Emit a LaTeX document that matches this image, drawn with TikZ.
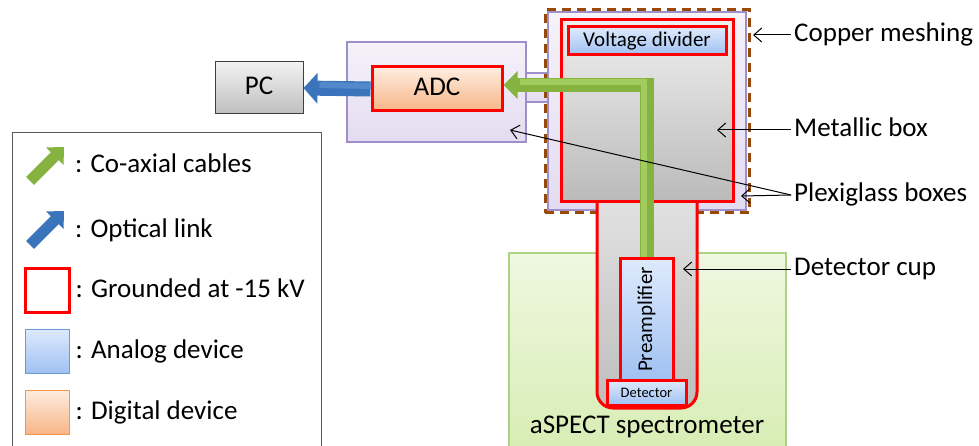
\documentclass[tikz,border=0pt]{standalone}
\usepackage{fontspec}
\setmainfont{Carlito}
\usepackage{graphicx}
\usepackage{xcolor}
\usetikzlibrary{arrows.meta,positioning}

\definecolor{hvred}{HTML}{FF0000}
\definecolor{meshbrown}{HTML}{984807}
\definecolor{specline}{HTML}{AED283}
\definecolor{spectop}{HTML}{EFF8E1}
\definecolor{specbot}{HTML}{D6ECB1}
\definecolor{legline}{HTML}{595959}
\definecolor{plexiline}{HTML}{9E8FCB}
\definecolor{plexitop}{HTML}{F5F2FA}
\definecolor{plexibot}{HTML}{E3DCF1}
\definecolor{cuptop}{HTML}{E2E2E2}
\definecolor{cupbot}{HTML}{BDBDBD}
\definecolor{mettop}{HTML}{EFEFEF}
\definecolor{metbot}{HTML}{BABABA}
\definecolor{anatop}{HTML}{DEEAFC}
\definecolor{anabot}{HTML}{A0C1F2}
\definecolor{analine}{HTML}{6D9AD3}
\definecolor{digtop}{HTML}{FEEDE0}
\definecolor{digbot}{HTML}{F8B587}
\definecolor{digline}{HTML}{F79646}
\definecolor{pctop}{HTML}{F2F2F2}
\definecolor{pcbot}{HTML}{BEBEBE}
\definecolor{pcline}{HTML}{3F3F3F}
\definecolor{coaxgreen}{HTML}{86B23F}
\definecolor{coaxlight}{HTML}{A3CC5E}
\definecolor{opticblue}{HTML}{3A74BA}
\definecolor{opticlight}{HTML}{5289CB}

\begin{document}
\begin{tikzpicture}[x=1pt, y=-1pt, node distance=61pt,
    txt/.style={font=\fontsize{27}{30}\selectfont, text height=18pt, text depth=4pt, inner sep=3pt},
    box/.style={draw, rectangle, inner sep=0pt},
    hv/.style={draw=hvred, line width=3pt},
    analog/.style={top color=anatop, bottom color=anabot},
    digital/.style={top color=digtop, bottom color=digbot},
    plexi/.style={draw=plexiline, line width=1.2pt, top color=plexitop, bottom color=plexibot},
    metal/.style={top color=mettop, bottom color=metbot},
    coax/.style={line width=14pt, draw=coaxgreen, -{Triangle[width=27pt,length=14pt]}},
    coaxhl/.style={line width=6pt, draw=coaxlight},
    optic/.style={line width=15pt, draw=opticblue, -{Triangle[width=30pt,length=14pt]}},
    optichl/.style={line width=6pt, draw=opticlight},
    coaxicon/.style={line width=11pt, draw=coaxgreen, -{Triangle[width=24pt,length=13pt]}},
    opticicon/.style={line width=11pt, draw=opticblue, -{Triangle[width=24pt,length=13pt]}},
    pointer/.style={draw=black, line width=1pt, -{Straight Barb[length=8pt,width=14pt]}}]
    \clip (0,0) rectangle (979,446);

    \node [draw=specline, line width=1.5pt, top color=spectop, bottom color=specbot, minimum width=277pt, minimum height=210pt, inner sep=0pt] (spec) at (647.5,358) {};
    \node [txt] (spectxt) at (647,426) {aSPECT spectrometer};
    \node [draw=legline, line width=1pt, minimum width=309pt, minimum height=327pt, inner sep=0pt] (legendbox) at (166.5,296.5) {};

    \node [box, plexi, minimum width=22pt, minimum height=29pt] (plexilink) at (537,87.5) {};
    \node [box, plexi, minimum width=179pt, minimum height=100pt] (plexiadc) at (436.5,92) {};
    \node [box, plexi, minimum width=198pt, minimum height=198pt] (plexihv) at (647,111) {};
    \node [box, draw=meshbrown, line width=3pt, dash pattern=on 9pt off 6pt, minimum width=204pt, minimum height=203pt] (mesh) at (647,111.5) {};

    \path [hv, top color=cuptop, bottom color=cupbot, rounded corners=16pt] (597,195) -- (597,408) -- (697,408) -- (697,195);
    \node [box, hv, metal, minimum width=172pt, minimum height=182pt] (metbox) at (647,111) {};
    \node [box, hv, analog, minimum width=158pt, minimum height=28pt, font=\fontsize{21}{24}\selectfont] (vdiv) at (647,41) {Voltage divider};
    \node [box, hv, analog, minimum width=53pt, minimum height=121pt, font=\fontsize{21}{24}\selectfont] (pre) at (646.5,319.5) {\rotatebox{90}{Preamplifier}};
    \node [box, hv, analog, minimum width=79pt, minimum height=25pt, font=\fontsize{14.5}{16}\selectfont] (det) at (646.5,392.5) {Detector};

    \node [box, hv, digital, txt, minimum width=130pt, minimum height=44pt] (adc) at (437,89) {ADC};
    \node [box, draw=pcline, line width=1pt, top color=pctop, bottom color=pcbot, txt, minimum width=88pt, minimum height=52pt] (pc) at (259,88) {PC};

    \draw [coax] (pre.north) |- ([yshift=4pt]adc.east);
    \draw [coaxhl] ([xshift=-3pt]pre.north) |- ([xshift=16pt,yshift=7pt]adc.east);
    \draw [optic] (adc.west) -- (pc.east);
    \draw [optichl] ([yshift=3pt]adc.west) -- ([xshift=16pt,yshift=3pt]pc.east);

    \coordinate (coaxtail) at (30,181);
    \coordinate (coaxtip) at (64,147);
    \draw [coaxicon] (coaxtail) -- (coaxtip);
    \node [txt, anchor=west] (lcoax) at (72,166) {: Co-axial cables};
    \coordinate (optictail) at (30,245);
    \coordinate (optictip) at (64,211);
    \draw [opticicon] (optictail) -- (optictip);
    \node [txt, anchor=west] (loptic) at (72,230) {: Optical link};
    \node [box, hv, minimum size=44pt] (keyhv) at (47,290) {};
    \node [txt, right=2pt of keyhv] (lhv) {: Grounded at -15 kV};
    \node [box, draw=analine, line width=1pt, analog, minimum size=44pt, below of=keyhv] (keyana) {};
    \node [txt, right=3pt of keyana] (lana) {: Analog device};
    \node [box, draw=digline, line width=1pt, digital, minimum size=44pt, below of=keyana] (keydig) {};
    \node [txt, right=3pt of keydig] (ldig) {: Digital device};

    \node [txt, anchor=west] (lmesh) at (791,35) {Copper meshing};
    \node [txt, anchor=west] (lmetal) at (791,130) {Metallic box};
    \node [txt, anchor=west] (lplexi) at (791,195) {Plexiglass boxes};
    \node [txt, anchor=west] (lcup) at (791,269) {Detector cup};
    \coordinate (meshpt) at (753,35);
    \coordinate (metalpt) at (717,130);
    \coordinate (plexipt) at (741,196);
    \coordinate (plexiadcpt) at (510,130);
    \coordinate (cuppt) at (683,269);
    \draw [pointer] (lmesh.west) -- (meshpt);
    \draw [pointer] (lmetal.west) -- (metalpt);
    \draw [pointer] (lplexi.west) -- (plexipt);
    \draw [pointer] (lplexi.west) -- (plexiadcpt);
    \draw [pointer] (lcup.west) -- (cuppt);
\end{tikzpicture}
\end{document}
